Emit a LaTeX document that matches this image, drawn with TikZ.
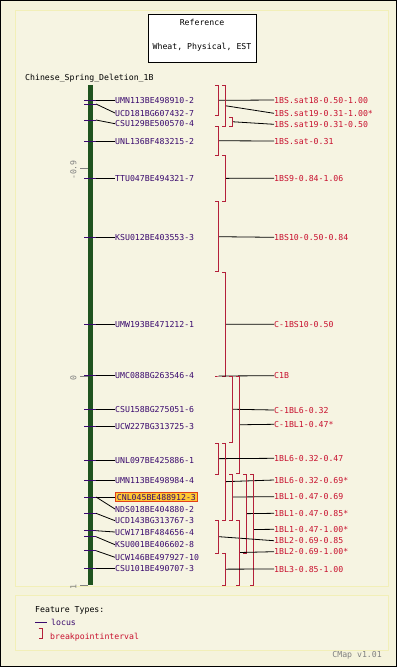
\documentclass[tikz,border=0pt]{standalone}
\usepackage{fontspec}
\setmonofont{DejaVu Sans Mono}
\definecolor{pagebg}{HTML}{F5F3DC}
\definecolor{panelbg}{HTML}{F6F4E2}
\definecolor{panelrule}{HTML}{F2EFB8}
\definecolor{locuscol}{HTML}{3A0A6E}
\definecolor{bpicol}{HTML}{C8102E}
\definecolor{bracketcol}{HTML}{B4203A}
\definecolor{chromcol}{HTML}{1F531F}
\definecolor{hilitefill}{HTML}{FFC933}
\definecolor{hiliterule}{HTML}{E2401A}
\newcommand\mapfont{\ttfamily\fontsize{8.2}{9.5}\selectfont}
\tikzset{
  maptext/.style={anchor=west, inner sep=0pt, text height=6pt, text depth=0pt, font=\mapfont},
  locus/.style={maptext, text=locuscol},
  bpint/.style={maptext, text=bpicol},
  plain/.style={},
  hilite/.style={fill=hilitefill, draw=hiliterule, line width=0.8pt, inner xsep=1.5pt, inner ysep=1.2pt},
  link/.style={black, line width=0.8pt},
  bracket/.style={bracketcol, line width=0.9pt},
  loctick/.style={locuscol, line width=0.8pt},
  scaletick/.style={gray, line width=0.8pt},
  scalelab/.style={font=\mapfont, text=gray, inner sep=0pt, rotate=90},
  panel/.style={fill=panelbg, draw=panelrule, line width=1pt}
}
\begin{document}
\begin{tikzpicture}[x=1pt,y=-1pt]
    \useasboundingbox (0,0) rectangle (397,667);
    \fill[pagebg] (0,0) rectangle (397,667);
    \draw[line width=1pt] (0.5,0.5) rectangle (396.5,666.5);
    \draw[panel] (15,10) rectangle (388,586);
    \draw[panel] (15,595) rectangle (388,650);
    % title box
    \node[draw, fill=white, line width=1pt, minimum width=108pt, minimum height=48pt, inner sep=0pt] (refbox) at (202,38) {};
    \node[maptext, anchor=center] (reftitle) at (202,22.5) {Reference};
    \node[maptext, anchor=center] (refsub) at (202,46) {Wheat, Physical, EST};
    \node[maptext] (mapname) at (25,77) {Chinese\_Spring\_Deletion\_1B};
    % chromosome and scale
    \fill[chromcol] (88,85) rectangle (93,585);
    \foreach \sy/\lab in {168/-0.9, 376/0, 585/1} {
        \draw[scaletick] (80,\sy) -- (88,\sy);
        \node[scalelab] at (73.5,\sy+2) {\lab};
    }
    % loci
    \foreach \ty/\ly/\txt/\sty [count=\i] in {
        100.7/100.7/UMN113BE498910-2/plain, 104/113/UCD181BG607432-7/plain,
        120/123.7/CSU129BE500570-4/plain, 141/141/UNL136BF483215-2/plain,
        178/178/TTU047BE494321-7/plain, 237.3/237.3/KSU012BE403553-3/plain,
        324.3/324.3/UMW193BE471212-1/plain, 375.7/375.7/UMC088BG263546-4/plain,
        409.3/409.3/CSU158BG275051-6/plain, 426/426/UCW227BG313725-3/plain,
        460/460/UNL097BE425886-1/plain, 480/480/UMN113BE498984-4/plain,
        497/497/CNL045BE488912-3/hilite, 497/509/NDS018BE404880-2/plain,
        513.3/520.7/UCD143BG313767-3/plain, 530.7/532/UCW171BF484656-4/plain,
        536.7/544.7/KSU001BE406602-8/plain, 550.7/557.3/UCW146BE497927-10/plain,
        568.3/568.3/CSU101BE490707-3/plain} {
        \draw[loctick] (84,\ty) -- (96,\ty);
        \coordinate (lt\i) at (96,\ty);
        \node[locus,\sty] (loc\i) at (115,\ly) {\txt};
        \draw[link] (lt\i) -- (loc\i.west);
    }
    % breakpoint intervals
    \foreach \cx/\ya/\yb/\ly/\txt [count=\i] in {
        218.5/85/115.7/100/1BS.sat18-0.50-1.00, 225.5/85/126.5/113.3/1BS.sat19-0.31-1.00*,
        232.5/117/126.5/124.3/1BS.sat19-0.31-0.50, 218.5/126.5/155/141/1BS.sat-0.31,
        225.5/155.7/201/178.3/1BS9-0.84-1.06, 218.5/201.7/271.7/237.3/1BS10-0.50-0.84,
        225.5/272.3/376/324.3/C-1BS10-0.50, 218.5/376/376/375.7/C1B,
        232.5/376/442.5/410/C-1BL6-0.32, 239.5/376/473.5/424.3/C-1BL1-0.47*,
        218.5/443.3/474/458.3/1BL6-0.32-0.47, 225.5/443.3/520/480/1BL6-0.32-0.69*,
        232.5/474/520/496.7/1BL1-0.47-0.69, 246.5/474/553.3/513.3/1BL1-0.47-0.85*,
        253.5/474/585/529.3/1BL1-0.47-1.00*, 218.5/520/553.3/540.7/1BL2-0.69-0.85,
        239.5/520/585/551.7/1BL2-0.69-1.00*, 225.5/553.3/585/569/1BL3-0.85-1.00} {
        \coordinate (bp\i) at (\cx,{(\ya+\yb)/2});
        \node[bpint] (bpl\i) at (274,\ly) {\txt};
        \draw[link] (bp\i) -- (bpl\i.west);
        \draw[bracket] (\cx-3.5,\ya) -- (\cx,\ya) -- (\cx,\yb) -- (\cx-3.5,\yb);
    }
    % legend
    \node[maptext] (legtitle) at (35,609) {Feature Types:};
    \draw[loctick] (35,622.7) -- (47,622.7);
    \node[locus] (leglocus) at (51,622.7) {locus};
    \draw[bracket] (38.5,628) -- (42.5,628) -- (42.5,638) -- (38.5,638);
    \node[bpint] (legbpi) at (50,636) {breakpointinterval};
    \node[maptext, anchor=east, text=gray] (version) at (382,654) {CMap v1.01};
\end{tikzpicture}
\end{document}
